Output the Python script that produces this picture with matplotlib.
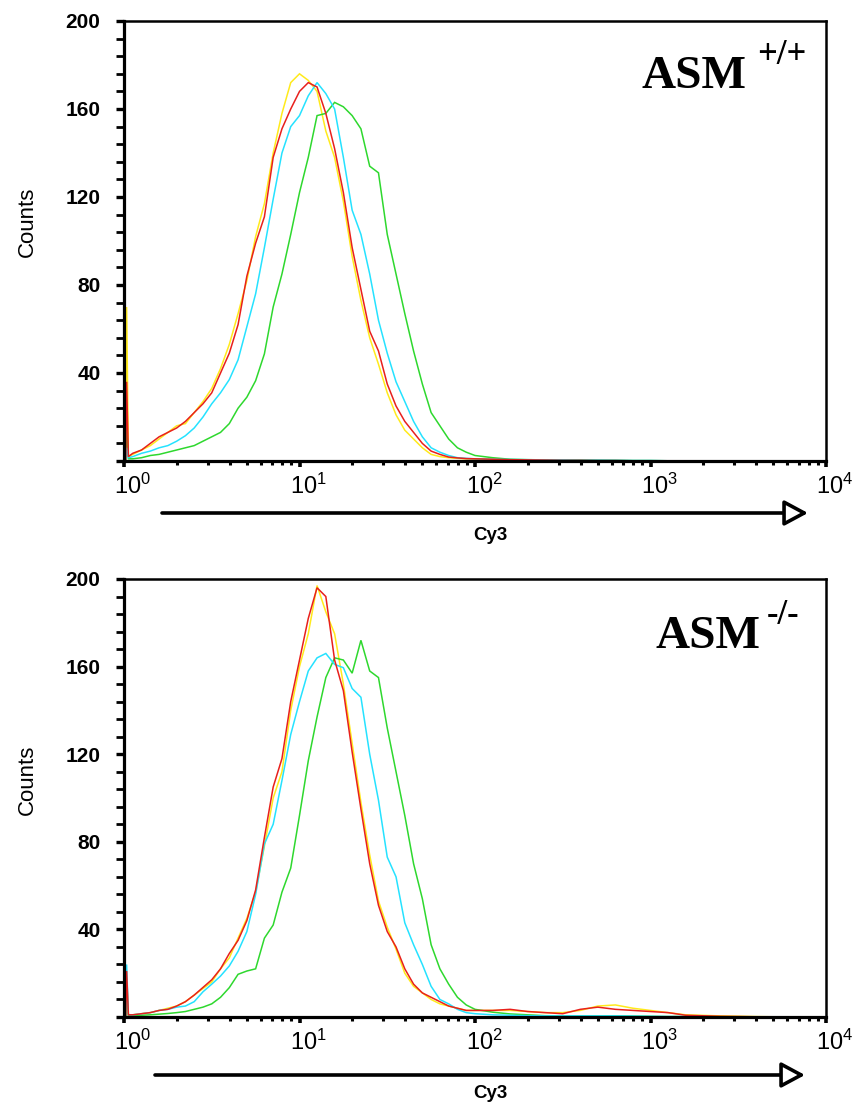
import matplotlib
matplotlib.use("Agg")
import matplotlib.pyplot as plt
import matplotlib.ticker as mticker
import matplotlib.transforms as mtransforms
import numpy as np

# fonts
plt.rcParams['font.family'] = ['Liberation Sans', 'DejaVu Sans']
plt.rcParams['mathtext.default'] = 'regular'

#*********************************************************************************
# data: channel position in decades (log10 of Cy3 intensity) and counts per curve
decades = [0.01, 0.015, 0.025,
           0.05, 0.10, 0.15, 0.20, 0.25, 0.30, 0.35, 0.40, 0.45, 0.50,
           0.55, 0.60, 0.65, 0.70, 0.75, 0.80, 0.85, 0.90, 0.95, 1.00,
           1.05, 1.10, 1.15, 1.20, 1.25, 1.30, 1.35, 1.40, 1.45, 1.50,
           1.55, 1.60, 1.65, 1.70, 1.75, 1.80, 1.85, 1.90, 1.95, 2.00,
           2.10, 2.20, 2.30, 2.40, 2.50, 2.60, 2.70, 2.80, 2.90, 3.00, 3.10, 3.20,
           3.40, 3.60, 3.80, 4.00]

# ASM +/+
wt_yellow = [0, 70, 2,
             3, 5, 7, 10, 13, 16, 17, 22, 27, 33,
             42, 53, 67, 82, 102, 117, 140, 158, 172, 176,
             173, 168, 150, 138, 118, 93, 73, 56, 44, 31,
             21, 14, 10, 6, 3, 2, 1.5, 1.2, 1, 0.8,
             0.6, 0.5, 0.4, 0.3, 0.3, 0.2, 0.2, 0.1, 0.1, 0.1, 0, 0,
             0, 0, 0, 0]
wt_green = [0, 15, 1,
            1, 1.5, 2.5, 3, 4, 5, 6, 7, 9, 11,
            13, 17, 24, 29, 36.5, 48.7, 70, 85, 103, 122,
            138, 157, 158, 163, 161, 157, 151, 134, 131, 103,
            85, 67, 50, 35, 22, 16, 10, 6, 4, 2.5,
            1.5, 0.8, 0.6, 0.5, 0.4, 0.4, 0.3, 0.3, 0.2, 0.2, 0.1, 0,
            0, 0, 0, 0]
wt_cyan = [0, 6, 1.5,
           2, 3.5, 4.5, 6, 7, 9, 11.5, 15, 20, 26,
           31, 37, 46, 61, 76, 97, 119, 140, 152, 157,
           166, 172, 167, 160, 138, 114, 103, 85, 64, 49,
           36, 27, 18, 11, 6, 4, 2.5, 1.5, 1.2, 1,
           0.8, 0.7, 0.6, 0.5, 0.5, 0.4, 0.4, 0.3, 0.2, 0.2, 0.1, 0,
           0, 0, 0, 0]
wt_red = [0, 36, 2,
          3.5, 5, 8, 11, 13, 15, 18, 22, 26, 31,
          40, 49, 62, 84, 99, 111, 138, 151, 160, 168,
          172, 170, 158, 142, 122, 97, 78, 59, 50, 35,
          25, 18, 13, 8, 4.5, 3, 1.8, 1.4, 1.1, 1,
          0.8, 0.6, 0.5, 0.4, 0.3, 0.3, 0.2, 0.2, 0.1, 0.1, 0, 0,
          0, 0, 0, 0]

# ASM -/-
ko_yellow = [0, 18, 1,
             1, 1.5, 2, 3, 4, 5, 7, 10, 13, 16,
             22, 27, 36, 45, 57, 78, 100, 112, 140, 160,
             175, 197, 185, 175, 152, 125, 98, 74, 53, 41,
             31, 20, 14, 11, 8, 6, 5, 4, 3, 3,
             3, 3, 2.5, 2, 2, 3, 5, 5.5, 4, 3, 2, 1,
             0.5, 0.2, 0, 0]
ko_green = [0, 12, 0.5,
            0.5, 0.8, 1, 1.3, 1.6, 2, 2.5, 3.5, 4.5, 6,
            9, 13.4, 19.5, 21, 22, 36, 42, 57, 68, 92,
            117, 137, 155, 164, 163, 157, 172, 158, 155, 132,
            112, 92, 70, 54, 33, 22, 15, 9, 5.5, 3.5,
            2.2, 1.4, 1, 0.6, 0.5, 0.5, 0.5, 0.5, 0.4, 0.3, 0.2, 0.2,
            0, 0, 0, 0]
ko_cyan = [0, 24, 1,
           1, 1.5, 2, 3, 3.5, 4.5, 5, 7, 11.5, 15,
           18.7, 23.3, 30, 39, 56, 79, 88, 108, 129, 144,
           158, 164, 166, 161, 159.5, 150, 146, 120, 99, 73,
           64, 43, 33, 24, 14, 8, 6, 3.5, 2, 1.5,
           1, 0.8, 0.6, 0.5, 0.5, 0.5, 0.5, 0.5, 0.4, 0.3, 0.2, 0.2,
           0, 0, 0, 0]
ko_red = [0, 21, 1,
          1, 1.5, 2, 3, 3.5, 5, 7, 10, 13.5, 17,
          22, 29, 35, 44, 58, 82, 105, 118, 144, 163,
          182, 196, 192, 163, 149, 121, 95, 70, 51, 39,
          32, 22, 15, 11, 9, 7, 5, 4, 3, 3,
          3, 3.5, 2.5, 2, 1.5, 3.5, 4.5, 3.5, 3, 2.5, 2, 0.8,
          0.3, 0.1, 0, 0]

panel_labels = ['ASM', 'ASM']
panel_sups = ['+/+', '-/-']
ytick_vals = [0, 40, 80, 120, 160, 200]
ytick_text = ['', '40', '80', '120', '160', '200']
xtick_vals = [1, 10, 100, 1000, 10000]
xtick_text = [r'$10^{0}$', r'$10^{1}$', r'$10^{2}$', r'$10^{3}$', r'$10^{4}$']

colors = {'yellow': '#ffea1c', 'green': '#2ed82e', 'cyan': '#25e2ff', 'red': '#e8201c'}

#*********************************************************************************
W, H = 858, 1107
fig = plt.figure(figsize=(W/100, H/100), dpi=100)

def fx(px):
   return px/W
def fy(py):
   return 1 - py/H

panels = [
   dict(rect=[fx(124), fy(461), fx(826)-fx(124), fy(21)-fy(461)],
        curves=[wt_yellow, wt_green, wt_cyan, wt_red],
        label_xy=(642, 88), sup_xy=(757, 64), counts_y=222,
        arrow=(162, 808, 513), cy3_y=535),
   dict(rect=[fx(124), fy(1017), fx(826)-fx(124), fy(579)-fy(1017)],
        curves=[ko_yellow, ko_green, ko_cyan, ko_red],
        label_xy=(656, 648), sup_xy=(767, 624), counts_y=780,
        arrow=(155, 805, 1075), cy3_y=1093),
]

x = 10**np.array(decades)
offset = mtransforms.ScaledTranslation(9/100, 0, fig.dpi_scale_trans)

for i, p in enumerate(panels):
   ax = fig.add_axes(p['rect'])
   for col, cts in zip(['yellow', 'green', 'cyan', 'red'], p['curves']):
      ax.plot(x, cts, color=colors[col], lw=1.1, solid_joinstyle='miter')

   ax.set_xscale('log')
   ax.set_xlim(1, 10000)
   ax.set_ylim(0, 200)

   ax.set_xticks(xtick_vals, labels=xtick_text, fontsize=17)
   ax.xaxis.set_minor_locator(mticker.LogLocator(base=10, subs=np.arange(2, 10)))
   ax.xaxis.set_minor_formatter(mticker.NullFormatter())
   ax.set_yticks(ytick_vals, labels=ytick_text, fontsize=15, fontweight='bold')
   ax.yaxis.set_minor_locator(mticker.MultipleLocator(8))

   ax.tick_params(axis='y', which='major', direction='out', length=6, width=2.4, pad=11)
   ax.tick_params(axis='y', which='minor', direction='out', length=5.5, width=2.0)
   ax.tick_params(axis='x', which='major', direction='out', length=4, width=2.6, pad=5)
   ax.tick_params(axis='x', which='minor', direction='out', length=3, width=2.2)
   for lab in ax.get_xticklabels():
      lab.set_transform(lab.get_transform() + offset)

   for side in ['left', 'bottom']:
      ax.spines[side].set_linewidth(2.3)
   for side in ['top', 'right']:
      ax.spines[side].set_linewidth(1.8)

   # text
   lx, ly = p['label_xy']
   fig.text(fx(lx), fy(ly), panel_labels[i], family=['Liberation Serif', 'DejaVu Serif'],
            fontweight='bold', fontsize=34, va='baseline', ha='left')
   sx, sy = p['sup_xy']
   fig.text(fx(sx), fy(sy), panel_sups[i], family=['Liberation Serif', 'DejaVu Serif'],
            fontweight='bold', fontsize=25, va='baseline', ha='left')
   fig.text(fx(27), fy(p['counts_y']), 'Counts', rotation=90, fontsize=16,
            ha='center', va='center')
   fig.text(fx(490), fy(p['cy3_y']), 'Cy3', fontsize=13.5, fontweight='bold',
            ha='center', va='center')

   x0, x1, ay = p['arrow']
   ax.annotate('', xy=(fx(x1), fy(ay)), xytext=(fx(x0), fy(ay)),
               xycoords='figure fraction', textcoords='figure fraction',
               arrowprops=dict(arrowstyle='-|>,head_length=1.45,head_width=0.78',
                               lw=2.6, fc='white', ec='black', shrinkA=0, shrinkB=0,
                               mutation_scale=10))

fig.savefig('out.png', dpi=100)
plt.close()
